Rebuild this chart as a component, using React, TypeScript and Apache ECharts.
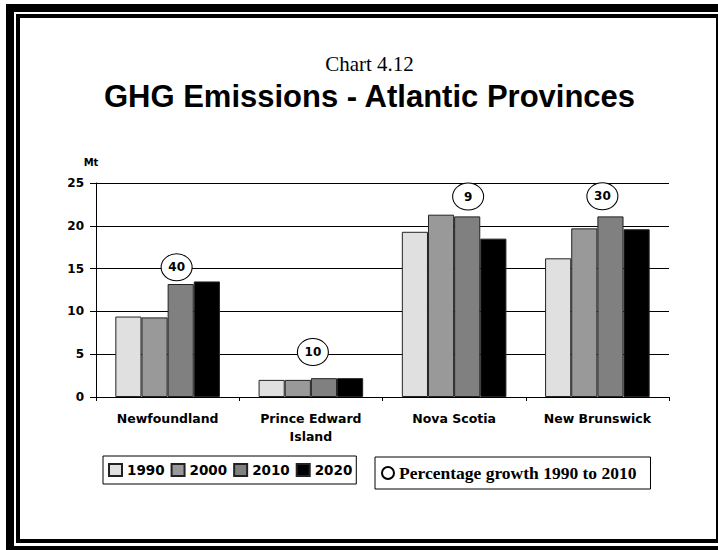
import React, { useEffect, useRef } from "react";
import * as echarts from "echarts";

// Provinces on the category axis
const provinces = ["Newfoundland", "Prince Edward\nIsland", "Nova Scotia", "New Brunswick"];

// Emission years shown as grouped bars
const years = ["1990", "2000", "2010", "2020"];

// GHG emissions (Mt) per province, one array per year
const emissions1990 = [9.4, 2.0, 19.3, 16.2];
const emissions2000 = [9.3, 2.0, 21.3, 19.7];
const emissions2010 = [13.2, 2.2, 21.1, 21.1];
const emissions2020 = [13.5, 2.2, 18.5, 19.6];

// Percentage growth 1990 to 2010, shown in the ovals
const growth1990to2010 = [40, 10, 9, 30];

// Value-axis ticks
const yMin = 0;
const yMax = 25;
const yStep = 5;

const seriesByYear = [emissions1990, emissions2000, emissions2010, emissions2020];
const barColors = ["#e0e0e0", "#999999", "#808080", "#000000"];

// Small pixel nudges that seat each oval above its group of bars
const ovalNudge: [number, number][] = [
  [9, 3],
  [2, -9],
  [14, -1],
  [5, -3],
];

const growthName = "Percentage growth 1990 to 2010";
const ovalPath = "path://M0,50A50,50,0,1,1,100,50A50,50,0,1,1,0,50Z";
const sans = "'DejaVu Sans', sans-serif";

export default function App() {
  const ref = useRef<HTMLDivElement>(null);

  useEffect(() => {
    if (!ref.current) return;
    const chart = echarts.init(ref.current, undefined, { renderer: "svg" });

    const barSeries = years.map((year, k) => ({
      name: year,
      type: "bar" as const,
      data: seriesByYear[k],
      barGap: "0%",
      barCategoryGap: "27%",
      itemStyle: { color: barColors[k], borderColor: "#222", borderWidth: 1 },
      z: 3,
    }));

    const ovalData = provinces.map((_, i) => {
      const top = Math.max(...seriesByYear.map((s) => s[i]));
      return {
        value: [i, top + 2],
        symbolOffset: ovalNudge[i],
        growth: growth1990to2010[i],
      };
    });

    chart.setOption({
      animation: false,
      backgroundColor: "#ffffff",
      grid: { left: 96, right: 49, top: 183, bottom: 153, containLabel: false },
      xAxis: {
        type: "category",
        data: provinces,
        axisLine: { show: true, lineStyle: { color: "#000", width: 1 } },
        axisTick: { show: true, length: 4, lineStyle: { color: "#000" } },
        axisLabel: {
          margin: 12,
          color: "#000",
          fontFamily: sans,
          fontWeight: "bold",
          fontSize: 12.5,
          lineHeight: 18,
          interval: 0,
        },
        splitLine: { show: false },
      },
      yAxis: {
        type: "value",
        min: yMin,
        max: yMax,
        interval: yStep,
        name: "Mt",
        nameLocation: "end",
        nameGap: 16,
        nameTextStyle: {
          color: "#000",
          fontFamily: sans,
          fontWeight: "bold",
          fontSize: 10,
          align: "center",
          padding: [0, 10, 0, 0],
        },
        axisLine: { show: true, lineStyle: { color: "#000", width: 1 } },
        axisTick: { show: true, length: 6, lineStyle: { color: "#000" } },
        axisLabel: {
          margin: 12,
          color: "#000",
          fontFamily: sans,
          fontWeight: "bold",
          fontSize: 12,
        },
        splitLine: { show: true, lineStyle: { color: "#000", width: 1 } },
      },
      legend: [
        {
          data: years,
          left: 103,
          top: 456,
          orient: "horizontal",
          icon: "rect",
          itemWidth: 13,
          itemHeight: 12,
          itemGap: 6,
          padding: [7, 4, 7, 5],
          borderColor: "#000",
          borderWidth: 1,
          selectedMode: false,
          textStyle: { color: "#000", fontFamily: sans, fontWeight: "bold", fontSize: 13.5 },
        },
        {
          data: [{ name: growthName, icon: ovalPath }],
          left: 375,
          top: 457,
          itemWidth: 12,
          itemHeight: 12,
          padding: [7, 14, 7, 6],
          borderColor: "#000",
          borderWidth: 1,
          selectedMode: false,
          textStyle: {
            color: "#000",
            fontFamily: "'Liberation Serif', 'Times New Roman', serif",
            fontWeight: "bold",
            fontSize: 17.5,
          },
        },
      ],
      series: [
        ...barSeries,
        {
          name: growthName,
          type: "scatter",
          data: ovalData,
          symbol: ovalPath,
          symbolSize: [31, 27],
          itemStyle: { color: "#ffffff", borderColor: "#000", borderWidth: 1, opacity: 1 },
          label: {
            show: true,
            position: "inside",
            color: "#000",
            fontFamily: sans,
            fontWeight: "bold",
            fontSize: 12,
            formatter: (p: any) => String(p.data.growth),
          },
          z: 5,
        },
      ],
      graphic: [
        {
          type: "rect",
          shape: { x: 10, y: 8, width: 718, height: 542 },
          style: { fill: "none", stroke: "#000", lineWidth: 8 },
          silent: true,
        },
        {
          type: "rect",
          shape: { x: 18, y: 16, width: 700, height: 525 },
          style: { fill: "none", stroke: "#000", lineWidth: 4 },
          silent: true,
        },
        {
          type: "text",
          x: 369.5,
          y: 64,
          style: {
            text: "Chart 4.12",
            fill: "#000",
            font: "21px 'Liberation Serif', 'Times New Roman', serif",
            textAlign: "center",
            textVerticalAlign: "middle",
          },
        },
        {
          type: "text",
          x: 369.5,
          y: 96,
          style: {
            text: "GHG Emissions - Atlantic Provinces",
            fill: "#000",
            font: "bold 31px 'Liberation Sans', Arial, sans-serif",
            textAlign: "center",
            textVerticalAlign: "middle",
          },
        },
      ],
    });

    return () => chart.dispose();
  }, []);

  return (
    <div
      ref={ref}
      style={{ position: "fixed", left: 0, top: 0, width: 718, height: 550, background: "#fff" }}
    />
  );
}
